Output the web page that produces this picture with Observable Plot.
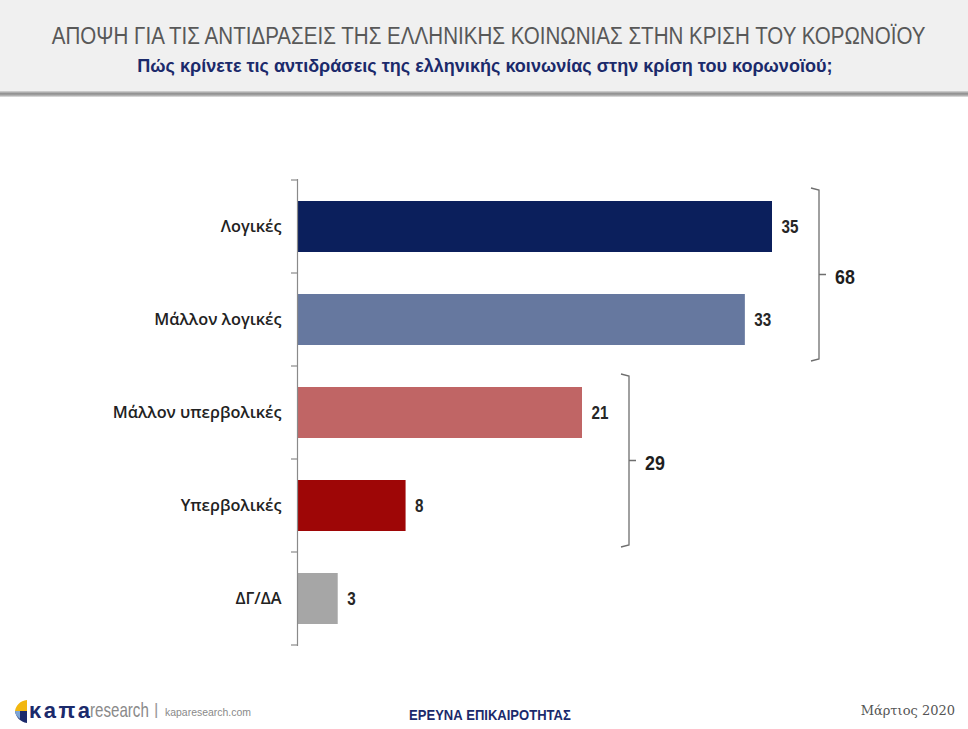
<!DOCTYPE html>
<html>
<head>
<meta charset="utf-8">
<script src="https://cdn.jsdelivr.net/npm/d3@7"></script>
<script src="https://cdn.jsdelivr.net/npm/@observablehq/plot@0.6"></script>
<style>
  html, body { margin: 0; padding: 0; background: #fff; }
  #page { position: relative; width: 968px; height: 729px; overflow: hidden; background: #fff; }
  #header { position: absolute; left: 0; top: 0; width: 968px; height: 92px; background: #f0f0f0; }
  #shadow { position: absolute; left: 0; top: 91px; width: 968px; height: 6px;
    background: linear-gradient(to bottom, #d6d6d6, #8e8e8e 45%, #a8a8a8 70%, #e6e6e6); }
  .line { position: absolute; left: 0; width: 978px; text-align: center; white-space: nowrap; }
  .line span { display: inline-block; transform-origin: 50% 50%; }
  #title { top: 23px; font-family: "Liberation Sans", sans-serif; font-size: 23px; color: #585858; }
  #title span { transform: scaleX(0.894); }
  #subtitle { top: 55px; left: -4px; font-family: "Liberation Sans", sans-serif; font-weight: bold; font-size: 19px; color: #1b2a6b; }
  #subtitle span { transform: scaleX(0.95); }
  #chart { position: absolute; left: 0; top: 100px; }
  #footer-center { top: 707px; left: 1px; font-family: "Liberation Sans", sans-serif; font-weight: bold; font-size: 14px; color: #1b2a6b; }
  #footer-center span { transform: scaleX(0.93); }
  #footer-date { position: absolute; right: 13px; top: 703px;
    font-family: "DejaVu Serif", "Liberation Serif", serif; font-size: 13px; color: #555; }
  .logo-part { position: absolute; white-space: nowrap; transform-origin: 0 50%; }
  #logo-icon { left: 15px; top: 699px; }
  #logo-kapa { left: 29px; top: 698px; font-family: "Liberation Sans", sans-serif; font-weight: bold; font-size: 22px; color: #1b2a6b; letter-spacing: 2.5px; }
  #logo-research { left: 90px; top: 698px; font-family: "Liberation Sans", sans-serif; font-size: 21px; color: #8a8a8a; transform: scaleX(0.72); }
  #logo-sep { left: 154px; top: 700px; font-family: "Liberation Sans", sans-serif; font-size: 17px; color: #999; }
  #logo-url { left: 165px; top: 706px; font-family: "Liberation Sans", sans-serif; font-size: 11px; color: #8a8a8a; transform: scaleX(0.95); }
</style>
</head>
<body>
<div id="page">
  <div id="header"></div>
  <div id="shadow"></div>
  <div id="title" class="line"><span></span></div>
  <div id="subtitle" class="line"><span></span></div>
  <div id="chart"></div>
  <svg id="logo-icon" class="logo-part" width="12" height="24" viewBox="0 0 12 24">
    <path d="M12 1 C5 2 1 6 0 12 L12 12 Z" fill="#f2b70f"/>
    <path d="M0 12 L12 12 L12 24 C5 23 1 18 0 12 Z" fill="#1b2a6b"/>
    <path d="M0 12 L5 12 L5 20 C2 18 0 15 0 12 Z" fill="#7fa6d6"/>
  </svg>
  <div id="logo-kapa" class="logo-part">κaπa</div>
  <div id="logo-research" class="logo-part">research</div>
  <div id="logo-sep" class="logo-part">|</div>
  <div id="logo-url" class="logo-part">kaparesearch.com</div>
  <div id="footer-center" class="line"><span></span></div>
  <div id="footer-date"></div>
</div>
<script>
// ---- Data ----
const titleText = "ΑΠΟΨΗ ΓΙΑ ΤΙΣ ΑΝΤΙΔΡΑΣΕΙΣ ΤΗΣ ΕΛΛΗΝΙΚΗΣ ΚΟΙΝΩΝΙΑΣ ΣΤΗΝ ΚΡΙΣΗ ΤΟΥ ΚΟΡΩΝΟΪΟΥ";
const subtitleText = "Πώς κρίνετε τις αντιδράσεις της ελληνικής κοινωνίας στην κρίση του κορωνοϊού;";
const footerCenterText = "ΕΡΕΥΝΑ ΕΠΙΚΑΙΡΟΤΗΤΑΣ";
const footerDateText = "Μάρτιος 2020";

const categories = ["Λογικές", "Μάλλον λογικές", "Μάλλον υπερβολικές", "Υπερβολικές", "ΔΓ/ΔΑ"];
const values = [35, 33, 21, 8, 3];

const groupMembers = [["Λογικές", "Μάλλον λογικές"], ["Μάλλον υπερβολικές", "Υπερβολικές"]];
const groupTotals = [68, 29];

// ---- Styles ----
const palette = ["#0b1f5c", "#66789f", "#c06565", "#9e0606", "#a6a6a6"];

document.querySelector("#title span").textContent = titleText;
document.querySelector("#subtitle span").textContent = subtitleText;
document.querySelector("#footer-center span").textContent = footerCenterText;
document.getElementById("footer-date").textContent = footerDateText;

const rows = categories.map((c, i) => ({cat: c, value: values[i]}));
const sans = '"Liberation Sans", Arial, sans-serif';
const labelFont = '"Open Sans", "Noto Sans", sans-serif';

const plot = Plot.plot({
  width: 968,
  height: 560,
  marginTop: 79,
  marginBottom: 14,
  marginLeft: 297,
  marginRight: 196,
  style: {background: "transparent", overflow: "visible"},
  x: {domain: [0, 35], axis: null},
  y: {domain: categories, axis: null, paddingInner: 0.45, paddingOuter: 0.225},
  color: {domain: categories, range: palette},
  marks: [
    Plot.barX(rows, {x: "value", y: "cat", fill: "cat"}),
    Plot.ruleX([0], {stroke: "#8a8a8a", strokeWidth: 1.2}),
    Plot.text(rows, {x: "value", y: "cat", text: d => String(d.value), dx: 9, textAnchor: "start",
      fontFamily: sans, fontWeight: "bold", fontSize: 19, fill: "#262626"}),
    Plot.text(rows, {x: 0, y: "cat", text: "cat", dx: -16, textAnchor: "end",
      fontFamily: labelFont, fontWeight: 650, fontSize: 16.3, fill: "#222"})
  ]
});
document.getElementById("chart").appendChild(plot);

// condense the numeric value labels horizontally (narrow face)
function condense(node, s) {
  const t = node.getAttribute("transform");
  if (t) {
    node.setAttribute("transform", t + ` scale(${s},1)`);
  } else {
    const x = +node.getAttribute("x") || 0, y = +node.getAttribute("y") || 0;
    node.removeAttribute("x"); node.removeAttribute("y");
    node.setAttribute("transform", `translate(${x},${y}) scale(${s},1)`);
  }
}
d3.select(plot).selectAll("text").each(function() {
  if (/^\d+$/.test(this.textContent.trim())) condense(this, 0.8);
});

// ---- Axis ticks and group brackets, positioned with Plot's own scales ----
const ys = plot.scale("y");
const xs = plot.scale("x");
const bw = ys.bandwidth;
const step = ys.apply(categories[1]) - ys.apply(categories[0]);
const pad = (step - bw) / 2;
const svg = d3.select(plot);
const g = svg.append("g");
const x0 = xs.apply(0);

const boundaries = categories.map(c => ys.apply(c) - pad);
boundaries.push(ys.apply(categories[categories.length - 1]) + bw + pad);
boundaries.forEach(yy => {
  g.append("line").attr("x1", x0 - 6).attr("x2", x0).attr("y1", yy).attr("y2", yy)
    .attr("stroke", "#8a8a8a").attr("stroke-width", 1.2);
});

groupMembers.forEach((members, gi) => {
  const maxVal = d3.max(members, m => values[categories.indexOf(m)]);
  const bx = xs.apply(maxVal) + 47;
  const top = ys.apply(members[0]) - 13;
  const bot = ys.apply(members[members.length - 1]) + bw + 16;
  const mid = (top + bot) / 2;
  g.append("path")
    .attr("d", `M${bx - 8},${top} L${bx},${top + 2} L${bx},${bot - 2} L${bx - 8},${bot} M${bx},${mid} L${bx + 7},${mid}`)
    .attr("fill", "none").attr("stroke", "#6e6e6e").attr("stroke-width", 1.3);
  g.append("text")
    .attr("transform", `translate(${bx + 26},${mid + 3}) scale(0.85,1)`)
    .attr("dy", "0.32em")
    .attr("font-family", sans).attr("font-weight", "bold").attr("font-size", 21)
    .attr("fill", "#1e1e1e").text(String(groupTotals[gi]));
});
</script>
</body>
</html>
